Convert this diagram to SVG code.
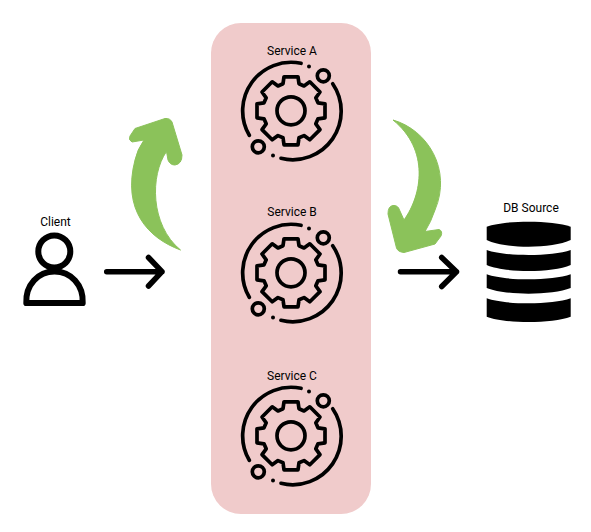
<svg xmlns="http://www.w3.org/2000/svg" xmlns:xlink="http://www.w3.org/1999/xlink" width="591" height="532" viewBox="0 0 591 532">
<style>
.t{font-family:Roboto,"Liberation Sans",sans-serif;font-size:12px;fill:#000;text-anchor:middle}
.s{fill:none;stroke:#000;stroke-width:3.7;stroke-linecap:round;stroke-linejoin:round}
.a{fill:none;stroke:#000;stroke-width:5.5;stroke-linecap:round;stroke-linejoin:round}
.p{fill:none;stroke:#000;stroke-width:6;stroke-linecap:round;stroke-linejoin:round}
.g{fill:#8bc25a;stroke:#8bc25a;stroke-width:1;stroke-linejoin:round}
</style>
<defs>
<g id="gear">
<path class="s" d="M10-47.500A48.500 48.500 0 0 0-41.700 24.500"/>
<path class="s" d="M-10 47.500A48.500 48.500 0 0 0 41.700-27"/>
<circle class="s" cx="32.300" cy="-35" r="6"/>
<circle class="s" cx="-32.700" cy="36" r="6"/>
<circle cx="18" cy="-44.300" r="2"/>
<circle cx="-18" cy="44.700" r="2"/>
<circle class="s" r="14"/>
<path class="s" d="M-8-27L-7-34H7L8-27L13-24.800L18.800-29L29-18.800L24.800-13L27-8L34-7V7L27 8L24.800 13L29 18.800L18.800 29L13 24.800L8 27L7 34H-7L-8 27L-13 24.800L-18.800 29L-29 18.800L-24.800 13L-27 8L-34 7V-7L-27-8L-24.800-13L-29-18.800L-18.800-29L-13-24.800Z"/>
</g>
</defs>
<rect id="panel" x="211" y="23" width="160" height="491" rx="30" fill="#f0cbcb"/>
<g id="client">
<text class="t" x="55.500" y="225.500">Client</text>
<circle class="p" cx="54.300" cy="251.500" r="16"/>
<path class="p" d="M26.300 303C25.500 285 38 271.500 54.500 271.500C71 271.500 83.500 285 82.700 303Z"/>
</g>
<g id="service-a">
<text class="t" x="292" y="55">Service A</text>
<use href="#gear" xlink:href="#gear" x="291" y="110.800"/>
</g>
<g id="service-b">
<text class="t" x="292" y="216">Service B</text>
<use href="#gear" xlink:href="#gear" x="291" y="272.800"/>
</g>
<g id="service-c">
<text class="t" x="292" y="380">Service C</text>
<use href="#gear" xlink:href="#gear" x="291" y="435.800"/>
</g>
<g id="db-source">
<text class="t" x="531" y="211.500">DB Source</text>
<path d="M486.700 226.700C505 220 552 220 570.700 226.700V240C552 248.900 505 248.900 486.700 240Z"/>
<path d="M486.700 250C505 256.700 552 256.700 570.700 250V265C552 273 505 273 486.700 265Z"/>
<path d="M486.700 274.300C505 281 552 281 570.700 274.300V288C552 295.500 505 295.500 486.700 288Z"/>
<path d="M486.700 298.300C505 305 552 305 570.700 298.300V316.700C552 323.800 505 323.800 486.700 316.700Z"/>
</g>
<g id="connectors">
<path class="a" d="M106.700 271.700H162M148.500 257.500L162 271.700L148.500 286"/>
<path class="a" d="M400.500 271.700H456.500M441.700 257.500L456.500 271.700L441.700 286.500"/>
<path class="g" d="M180.500 250C148 238 122 210 135 160Q137 150 144 140L132 142Q128 140 130 136L135 128.500L165 118.500Q170 118 172 122L182 155Q182 164 175 165Q170 165 168 160L166.500 151.500C150 175 150 225 180.500 250Z"/>
<path class="g" d="M393 120C428 130 452 170 435 210Q431 222 425 231.500L439 229.500Q443 231 441 236L435 244L404 252.500Q398 252 396.500 248L388 214Q388 206 393 205.500Q398 205 399.500 210L404 220C422 195 430 150 393 120Z"/>
</g>
</svg>
